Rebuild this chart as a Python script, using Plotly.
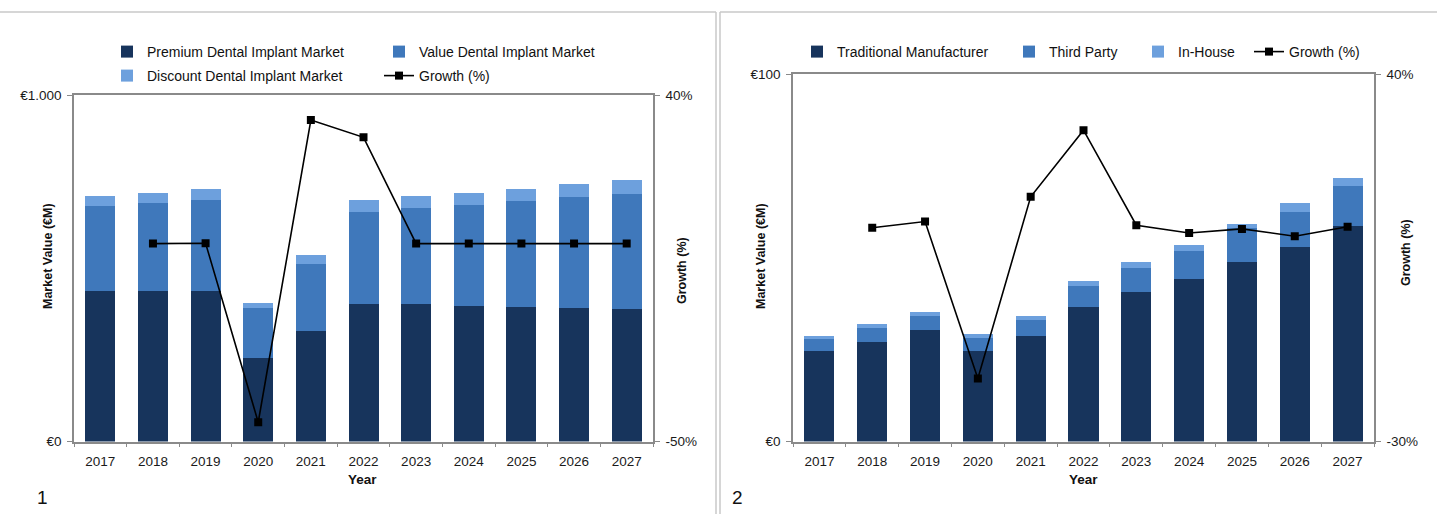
import plotly.graph_objects as go

# ---------------- data ----------------
years = ["2017", "2018", "2019", "2020", "2021", "2022", "2023", "2024", "2025", "2026", "2027"]

# Chart 1 (EUR M)
premium = [435, 435, 435, 242, 318, 396, 396, 392, 389, 386, 381]
value_mkt = [244, 252, 262, 143, 195, 267, 277, 291, 305, 320, 334]
discount = [30, 31, 32, 15, 24, 34, 35, 35, 35, 36, 39]
growth1 = [None, 1.4, 1.5, -45.0, 33.5, 29.0, 1.4, 1.4, 1.4, 1.4, 1.4]

# Chart 2 (EUR M)
traditional = [24.6, 27.2, 30.3, 24.6, 28.7, 36.5, 40.6, 44.3, 48.9, 53.0, 58.7]
third_party = [3.2, 3.6, 3.9, 3.6, 4.4, 5.9, 6.6, 7.6, 9.2, 9.5, 10.8]
in_house = [1.0, 1.1, 1.0, 1.1, 1.0, 1.3, 1.6, 1.6, 1.1, 2.3, 2.3]
growth2 = [None, 10.7, 11.9, -18.0, 16.6, 29.3, 11.2, 9.7, 10.5, 9.1, 10.9]

y1_ticks = [0, 1000]
y1_ticktext = ["€0", "€1.000"]
g1_ticks = [-50, 40]
g1_ticktext = ["-50%", "40%"]
y2_ticks = [0, 100]
y2_ticktext = ["€0", "€100"]
g2_ticks = [-30, 40]
g2_ticktext = ["-30%", "40%"]

# ---------------- style ----------------
W, H = 1437, 514
FONT = "Liberation Sans, Arial, sans-serif"
DARK = "#17345c"
MID = "#3f78bb"
LIGHT = "#6da0dd"
AXIS = "#8a8a8a"
BAR_W = 0.57
XRANGE = [-0.5, len(years) - 0.5]


def fx(p):
    return p / W


def fy(p):
    return 1 - p / H


fig = go.Figure()

# chart 1
fig.add_bar(x=years, y=premium, name="Premium Dental Implant Market", marker_color=DARK,
            width=BAR_W, xaxis="x", yaxis="y", legend="legend")
fig.add_bar(x=years, y=value_mkt, name="Value Dental Implant Market", marker_color=MID,
            width=BAR_W, xaxis="x", yaxis="y", legend="legend")
fig.add_bar(x=years, y=discount, name="Discount Dental Implant Market", marker_color=LIGHT,
            width=BAR_W, xaxis="x", yaxis="y", legend="legend2")
fig.add_scatter(x=years, y=growth1, name="Growth (%)", mode="lines+markers",
                line=dict(color="#000000", width=1.6),
                marker=dict(symbol="square", size=8, color="#000000"),
                xaxis="x", yaxis="y2", legend="legend2")

# chart 2
fig.add_bar(x=years, y=traditional, name="Traditional Manufacturer", marker_color=DARK,
            width=BAR_W, xaxis="x2", yaxis="y3", legend="legend3")
fig.add_bar(x=years, y=third_party, name="Third Party", marker_color=MID,
            width=BAR_W, xaxis="x2", yaxis="y3", legend="legend4")
fig.add_bar(x=years, y=in_house, name="In-House", marker_color=LIGHT,
            width=BAR_W, xaxis="x2", yaxis="y3", legend="legend5")
fig.add_scatter(x=years, y=growth2, name="Growth (%)", mode="lines+markers",
                line=dict(color="#000000", width=1.6),
                marker=dict(symbol="square", size=8, color="#000000"),
                xaxis="x2", yaxis="y4", legend="legend6")

tickfont = dict(family=FONT, size=13.5, color="#1a1a1a")

xcommon = dict(type="category", range=XRANGE, autorange=False, showline=True, linecolor=AXIS,
               linewidth=1.5, mirror=True, ticks="outside", tickson="boundaries", ticklen=4,
               tickcolor=AXIS, tickfont=tickfont, showgrid=False, zeroline=False,
               fixedrange=True, ticklabelstandoff=7, automargin=False)
ycommon = dict(showline=True, linecolor=AXIS, linewidth=1.5, ticks="outside", ticklen=5,
               tickcolor=AXIS, tickfont=tickfont, showgrid=False, zeroline=False,
               ticklabelstandoff=3, automargin=False, fixedrange=True, autorange=False)

legfont = dict(family=FONT, size=14, color="#111111")
legcommon = dict(orientation="h", xanchor="left", yanchor="middle", font=legfont,
                 bgcolor="rgba(0,0,0,0)", borderwidth=0, traceorder="normal",
                 itemclick=False, itemdoubleclick=False)

fig.update_layout(
    template="none",
    width=W, height=H,
    autosize=False,
    margin=dict(l=0, r=0, t=0, b=0, pad=0, autoexpand=False),
    paper_bgcolor="white", plot_bgcolor="white",
    barmode="stack",
    hovermode=False,
    font=dict(family=FONT, color="#111111"),
    xaxis=dict(domain=[fx(74), fx(653)], anchor="y", **xcommon),
    yaxis=dict(domain=[fy(441.5), fy(95)], range=[0, 1000], tickvals=y1_ticks,
               ticktext=y1_ticktext, anchor="x", **ycommon),
    yaxis2=dict(overlaying="y", side="right", range=[-50, 40], tickvals=g1_ticks,
                ticktext=g1_ticktext, anchor="x", **ycommon),
    xaxis2=dict(domain=[fx(793), fx(1374)], anchor="y3", **xcommon),
    yaxis3=dict(domain=[fy(441.5), fy(74)], range=[0, 100], tickvals=y2_ticks,
                ticktext=y2_ticktext, anchor="x2", **ycommon),
    yaxis4=dict(overlaying="y3", side="right", range=[-30, 40], tickvals=g2_ticks,
                ticktext=g2_ticktext, anchor="x2", **ycommon),
    legend=dict(x=fx(107), y=fy(52), entrywidth=227, entrywidthmode="pixels", **legcommon),
    legend2=dict(x=fx(107), y=fy(76), entrywidth=227, entrywidthmode="pixels", **legcommon),
    legend3=dict(x=fx(797), y=fy(52), **legcommon),
    legend4=dict(x=fx(1009), y=fy(52), **legcommon),
    legend5=dict(x=fx(1138), y=fy(52), **legcommon),
    legend6=dict(x=fx(1249), y=fy(52), **legcommon),
    showlegend=True,
)

# panel frames
frame = dict(color="#c8c8c8", width=1.5)
for (x0, y0, x1, y1) in [(0, 12, 716, 12), (716, 12, 716, 520),
                         (720, 12, 1437, 12), (720, 12, 720, 520)]:
    fig.add_shape(type="line", xref="paper", yref="paper", x0=fx(x0), x1=fx(x1),
                  y0=fy(y0), y1=fy(y1), line=frame, layer="below")

bold = dict(family=FONT, size=12.5, color="#111111")
ann = [
    dict(text="<b>Market Value (€M)</b>", x=fx(48), y=fy(256), textangle=-90, font=bold),
    dict(text="<b>Growth (%)</b>", x=fx(682), y=fy(271), textangle=-90, font=bold),
    dict(text="<b>Year</b>", x=fx(362), y=fy(479), font=dict(family=FONT, size=13.5, color="#111111")),
    dict(text="<b>Market Value (€M)</b>", x=fx(761), y=fy(256), textangle=-90, font=bold),
    dict(text="<b>Growth (%)</b>", x=fx(1406), y=fy(253), textangle=-90, font=bold),
    dict(text="<b>Year</b>", x=fx(1083), y=fy(479), font=dict(family=FONT, size=13.5, color="#111111")),
    dict(text="1", x=fx(42), y=fy(497), font=dict(family=FONT, size=19, color="#111111")),
    dict(text="2", x=fx(737), y=fy(497), font=dict(family=FONT, size=19, color="#111111")),
]
for a in ann:
    fig.add_annotation(xref="paper", yref="paper", showarrow=False, xanchor="center",
                       yanchor="middle", **a)

fig.write_html(
    "out.html",
    config={"displayModeBar": False},
    post_script="document.body.style.margin='0';document.body.style.overflow='hidden';",
)
